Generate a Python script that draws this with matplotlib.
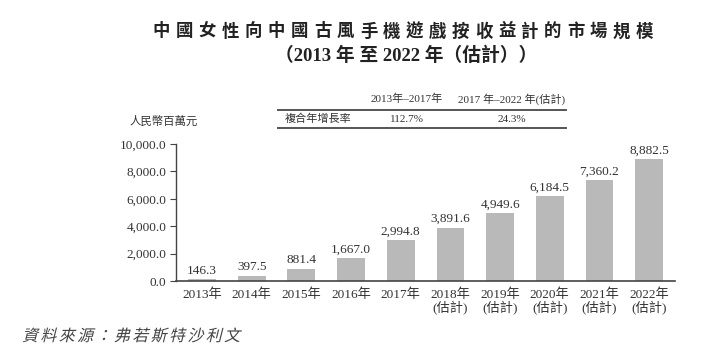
import matplotlib
matplotlib.use("Agg")
import matplotlib.pyplot as plt
from matplotlib.textpath import TextPath
from matplotlib.patches import PathPatch
from matplotlib.font_manager import FontProperties
from matplotlib.transforms import Affine2D
import numpy as np

years = ["2013年", "2014年", "2015年", "2016年", "2017年",
         "2018年\n(估計)", "2019年\n(估計)", "2020年\n(估計)", "2021年\n(估計)", "2022年\n(估計)"]
values = [146.3, 397.5, 881.4, 1667.0, 2994.8, 3891.6, 4949.6, 6184.5, 7360.2, 8882.5]
yticks = [0, 2000, 4000, 6000, 8000, 10000]
title1 = "中國女性向中國古風手機遊戲按收益計的市場規模"
title2 = "（2013 年 至 2022 年（估計））"
unit_label = "人民幣百萬元"
cagr_headers = ["2013年–2017年", "2017 年–2022 年(估計)"]
cagr_row_label = "複合年增長率"
cagr_values = ["112.7%", "24.3%"]
source = "資料來源：弗若斯特沙利文"

W, H = 704, 361
DPI = 100
FAM = ["Liberation Serif", "Noto Sans CJK TC", "DejaVu Sans"]
TXT = "#333333"

fig = plt.figure(figsize=(W / DPI, H / DPI), dpi=DPI)
fig.patch.set_facecolor("white")

def fx(px):
    return px / W

def fy(py):
    return 1 - py / H

# axes
left, right, top, bottom = 176, 675, 144, 281
ax = fig.add_axes([fx(left), fy(bottom), (right - left) / W, (bottom - top) / H])
x = np.arange(len(values))
ax.bar(x, values, width=0.56, color="#b9b9b9", zorder=2)
ax.set_xlim(-0.523, 9.52)
ax.set_ylim(0, 10000)
for s in ["top", "right"]:
    ax.spines[s].set_visible(False)
ax.spines["left"].set_color("#444444")
ax.spines["bottom"].set_color("#444444")
ax.spines["left"].set_linewidth(1.0)
ax.spines["bottom"].set_linewidth(1.2)
ax.set_yticks(yticks)
ax.set_yticklabels([f"{v:,.1f}" for v in yticks], family=FAM, fontsize=9.5, color=TXT)
ax.tick_params(axis="y", length=4, width=0.8, color="#444444", pad=3)
ax.set_xticks(x)
ax.set_xticklabels(years, family=FAM, fontsize=9.5, color=TXT, linespacing=1.05)
ax.tick_params(axis="x", length=0, pad=5)
for xi, v in zip(x, values):
    ax.text(xi, v + 180, f"{v:,.1f}", ha="center", va="bottom", family=FAM,
            fontsize=9.5, color=TXT)

# title line 1, spaced characters
pitch = 23.0
cx = 403
n = len(title1)
for i, ch in enumerate(title1):
    px = cx + (i - (n - 1) / 2) * pitch
    fig.text(fx(px), fy(32), ch, ha="center", va="center", family=FAM,
             fontsize=12.5, fontweight="bold", color="#222222")
fig.text(fx(406), fy(56), title2, ha="center", va="center", family=FAM,
         fontsize=13.5, fontweight="bold", color="#222222")

# unit label
fig.text(fx(130), fy(121), unit_label, ha="left", va="center", family=FAM,
         fontsize=8.2, color=TXT)

# CAGR table
fig.text(fx(407), fy(99), cagr_headers[0], ha="center", va="center", family=FAM,
         fontsize=8, color=TXT)
fig.text(fx(512), fy(99), cagr_headers[1], ha="center", va="center", family=FAM,
         fontsize=8, color=TXT)
fig.text(fx(285), fy(119), cagr_row_label, ha="left", va="center", family=FAM,
         fontsize=8, color=TXT)
fig.text(fx(407), fy(119), cagr_values[0], ha="center", va="center", family=FAM,
         fontsize=8, color=TXT)
fig.text(fx(512), fy(119), cagr_values[1], ha="center", va="center", family=FAM,
         fontsize=8, color=TXT)
for yy in (110, 128):
    fig.add_artist(plt.Line2D([fx(278), fx(566)], [fy(yy), fy(yy)],
                              transform=fig.transFigure, color="#555555", lw=1.4))

# source (italic via skew)
fp = FontProperties(family="Noto Sans CJK TC")
size_px = 11.5 * DPI / 72
xpos = 22
for ch in source:
    tp = TextPath((0, 0), ch, prop=fp, size=size_px)
    tr = Affine2D().skew_deg(14, 0).translate(xpos, H - 341)
    fig.add_artist(PathPatch(tp, transform=tr, facecolor="#444444", edgecolor="none"))
    xpos += size_px * 1.15

fig.savefig("out.png", dpi=DPI, facecolor="white")
